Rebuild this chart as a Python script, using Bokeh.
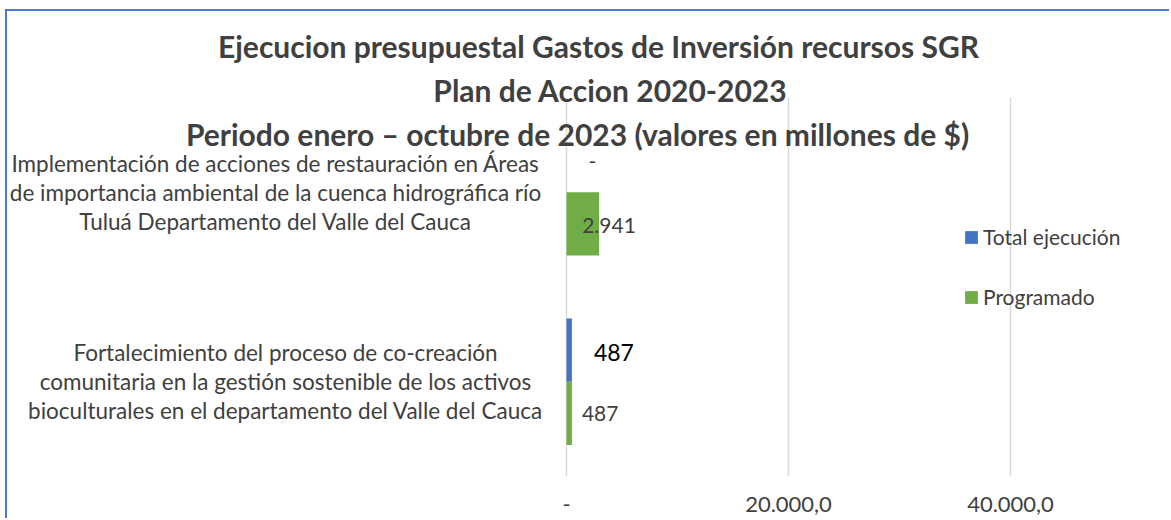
from bokeh.plotting import figure
from bokeh.models import ColumnDataSource, Range1d, FixedTicker, Label, Legend, LegendItem
from bokeh.core.properties import value
from bokeh.embed import file_html
from bokeh.resources import INLINE

# ---------------- data ----------------
title_lines = [
    "Ejecucion presupuestal Gastos de Inversión recursos SGR",
    "Plan de Accion 2020-2023",
    "Periodo enero – octubre de 2023 (valores en millones de $)",
]
categories = [
    "Implementación de acciones de restauración en Áreas de importancia ambiental de la cuenca hidrográfica río Tuluá Departamento del Valle del Cauca",
    "Fortalecimiento del proceso de co-creación comunitaria en la gestión sostenible de los activos bioculturales en el departamento del Valle del Cauca",
]
category_lines = [
    ["Implementación de acciones de restauración en Áreas",
     "de importancia ambiental de la cuenca hidrográfica río",
     "Tuluá Departamento del Valle del Cauca"],
    ["Fortalecimiento del proceso de co-creación",
     "comunitaria en la gestión sostenible de los activos",
     "bioculturales en el departamento del Valle del Cauca"],
]
series = ["Total ejecución", "Programado"]
total_ejecucion = [0, 487]
programado = [2941, 487]
x_ticks = [0, 20000, 40000]
x_tick_labels = ["-", "20.000,0", "40.000,0"]

# ---------------- style / layout ----------------
BLUE = "#4472C4"
GREEN = "#70AD47"
TXT = "#404040"
GRID = "#D9D9D9"
BORDER = "#4A7BD0"
FONT = "Lato"

W, H = 1164, 509
ZERO_PX = 559            # canvas px of value 0
PX_PER_UNIT = 222 / 20000
FRAME_H = 465            # plot frame height (px)
PX_PER_CAT = 189.5       # px per category band

def fmt(v):
    if v == 0:
        return "-"
    return f"{v:,.0f}".replace(",", ".")

n = len(categories)
centers = [n - 1 - i + 0.5 for i in range(n)]
bar_h = 1 / 3
y_blue = [c + bar_h / 2 for c in centers]
y_green = [c - bar_h / 2 for c in centers]

p = figure(
    width=W, height=H, title=None,
    output_backend="svg", toolbar_location=None,
    x_range=Range1d(-ZERO_PX / PX_PER_UNIT, (W - ZERO_PX) / PX_PER_UNIT),
    y_range=Range1d(0, FRAME_H / PX_PER_CAT),
    y_axis_location=None,
    min_border_left=0, min_border_right=0, min_border_top=0, min_border_bottom=H - FRAME_H,
    styles={"margin-left": "5px", "margin-top": "9px",
            "border-top": f"2px solid {BORDER}", "border-left": f"2px solid {BORDER}"},
)
p.outline_line_color = None
p.background_fill_color = "white"
p.border_fill_color = "white"
p.xgrid.visible = False
p.ygrid.visible = False

# value grid lines (limited to the plot area of the categories)
p.segment(x0=x_ticks, y0=[0] * len(x_ticks), x1=x_ticks, y1=[n] * len(x_ticks),
          line_color=GRID, line_width=1.5)

src_b = ColumnDataSource(dict(y=y_blue, right=total_ejecucion))
src_g = ColumnDataSource(dict(y=y_green, right=programado))
r_b = p.hbar(y="y", left=0, right="right", height=bar_h, color=BLUE, line_color=None, source=src_b)
r_g = p.hbar(y="y", left=0, right="right", height=bar_h, color=GREEN, line_color=None, source=src_g)

# data labels
lab_x = total_ejecucion + programado
lab_y = y_blue + y_green
lab_text = [fmt(v) for v in lab_x]
lab_xoff = [22, 22, -17, 10]
lab_yoff = [1, 2, 2, 0]
lab_size = ["21px", "23px", "21px", "21px"]
lab_color = [TXT, "#000000", TXT, TXT]
src_l = ColumnDataSource(dict(x=lab_x, y=lab_y, text=lab_text, xo=lab_xoff, yo=lab_yoff,
                              size=lab_size, color=lab_color))
p.text(x="x", y="y", text="text", x_offset="xo", y_offset="yo", text_font_size="size",
       text_color="color", text_align="left", text_baseline="middle",
       text_font=value(FONT), source=src_l)

# x axis
ax = p.xaxis[0]
ax.ticker = FixedTicker(ticks=x_ticks)
ax.major_label_overrides = dict(zip(x_ticks, x_tick_labels))
ax.axis_line_color = None
ax.major_tick_line_color = None
ax.minor_tick_line_color = None
ax.major_tick_out = 0
ax.major_tick_in = 0
ax.major_label_standoff = 20
ax.major_label_text_font = FONT
ax.major_label_text_font_size = "22px"
ax.major_label_text_color = TXT

# title lines (screen px relative to the frame's bottom-left)
title_x = [591, 603, 570]
title_y = [431, 387, 343]
for t, xx, yy in zip(title_lines, title_x, title_y):
    p.add_layout(Label(x=xx, y=yy, x_units="screen", y_units="screen", text=t,
                       text_align="center", text_baseline="middle",
                       text_font=FONT, text_font_style="bold", text_font_size="30px",
                       text_color=TXT))

# category labels
cat_x = [268, 278]
for lines, c, cx in zip(category_lines, centers, cat_x):
    for k, line in enumerate(lines):
        p.add_layout(Label(x=cx, y=c, x_units="screen", y_units="data", y_offset=(1 - k) * 29,
                           text=line, text_align="center", text_baseline="middle",
                           text_font=FONT, text_font_size="22.5px", text_color=TXT))

legend = Legend(items=[LegendItem(label=series[0], renderers=[r_b]),
                       LegendItem(label=series[1], renderers=[r_g])],
                location=(956, 167), orientation="vertical", spacing=35,
                glyph_width=16, glyph_height=16, label_height=25, label_standoff=4,
                label_text_font=FONT, label_text_font_size="21px", label_text_color=TXT,
                background_fill_alpha=0, border_line_color=None, padding=0, margin=0)
p.add_layout(legend)

open("out.html", "w").write(file_html(p, INLINE))
